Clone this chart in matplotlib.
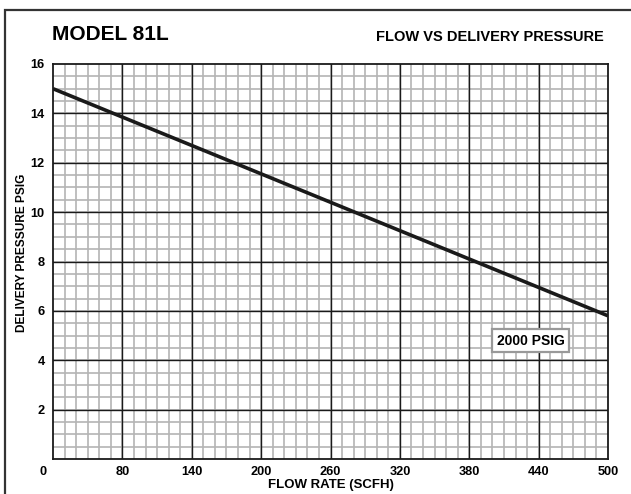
import matplotlib.pyplot as plt
import matplotlib.transforms as mtransforms
from matplotlib.patches import Rectangle
import numpy as np

plt.rcParams['font.family'] = ['Liberation Sans', 'DejaVu Sans']

# flow rate (SCFH) vs delivery pressure (PSIG), 2000 PSIG inlet
flow = [20, 500]
pressure = [15.0, 5.8]
x_ticks = [20, 80, 140, 200, 260, 320, 380, 440, 500]
x_tick_labels = ['0', '80', '140', '200', '260', '320', '380', '440', '500']
y_ticks = [2, 4, 6, 8, 10, 12, 14, 16]

fig = plt.figure(figsize=(6.31, 4.94), dpi=100)
ax = fig.add_axes([53/631, 1-459/494, (608-53)/631, (459-64)/494])

# minor grid every 10 scfh / 0.5 psig, major black lines
for x in np.arange(30, 500, 10):
    ax.axvline(x, color='#b4b4b4', lw=1.2, zorder=1)
for y in np.arange(0.5, 16, 0.5):
    ax.axhline(y, color='#b4b4b4', lw=1.2, zorder=1)
for x in x_ticks[1:-1]:
    ax.axvline(x, color='#1a1a1a', lw=1.0, zorder=2)
for y in y_ticks[:-1]:
    ax.axhline(y, color='#1a1a1a', lw=1.0, zorder=2)

ax.plot(flow, pressure, color='#1a1a1a', lw=2.6, zorder=3, solid_capstyle='butt')

ax.set_xlim(20, 500)
ax.set_ylim(0, 16)
ax.set_xticks(x_ticks)
ax.set_xticklabels(x_tick_labels, fontsize=9.2, fontweight='bold')
ax.set_yticks(y_ticks)
ax.set_yticklabels([str(v) for v in y_ticks], fontsize=9.2, fontweight='bold')
ax.tick_params(length=0, pad=6)
ax.tick_params(axis='x', pad=5)
# the "0" label sits left of the grid edge
lbl0 = ax.get_xticklabels()[0]
lbl0.set_transform(lbl0.get_transform() + mtransforms.ScaledTranslation(-10/100, 0, fig.dpi_scale_trans))
for s in ax.spines.values():
    s.set_linewidth(1.3)
    s.set_color('#1a1a1a')

ax.set_xlabel('FLOW RATE (SCFH)', fontsize=9.5, fontweight='bold')
ax.xaxis.set_label_coords(0.5, -(479 - 459) / 395)
ax.set_ylabel('DELIVERY PRESSURE PSIG', fontsize=8.6, fontweight='bold')
ax.yaxis.set_label_coords(-(53 - 28) / 555, (459 - 253) / 395)

ax.text(433, 4.8, '2000 PSIG', fontsize=10, fontweight='bold', ha='center', va='center', zorder=4,
        bbox=dict(boxstyle='square,pad=0.3', fc='white', ec='#999999', lw=1.6))

fig.text(52/631, 1-35/494, 'MODEL 81L', fontsize=15, fontweight='bold', ha='left', va='center')
fig.text(604/631, 1-37/494, 'FLOW VS DELIVERY PRESSURE', fontsize=10.5, fontweight='bold', ha='right', va='center')

fig.patches.append(Rectangle((5/631, -0.1), 1.2, 1-10/494+0.1, transform=fig.transFigure,
                             fill=False, ec='#333333', lw=1.6))

fig.savefig('out.png', dpi=100)
